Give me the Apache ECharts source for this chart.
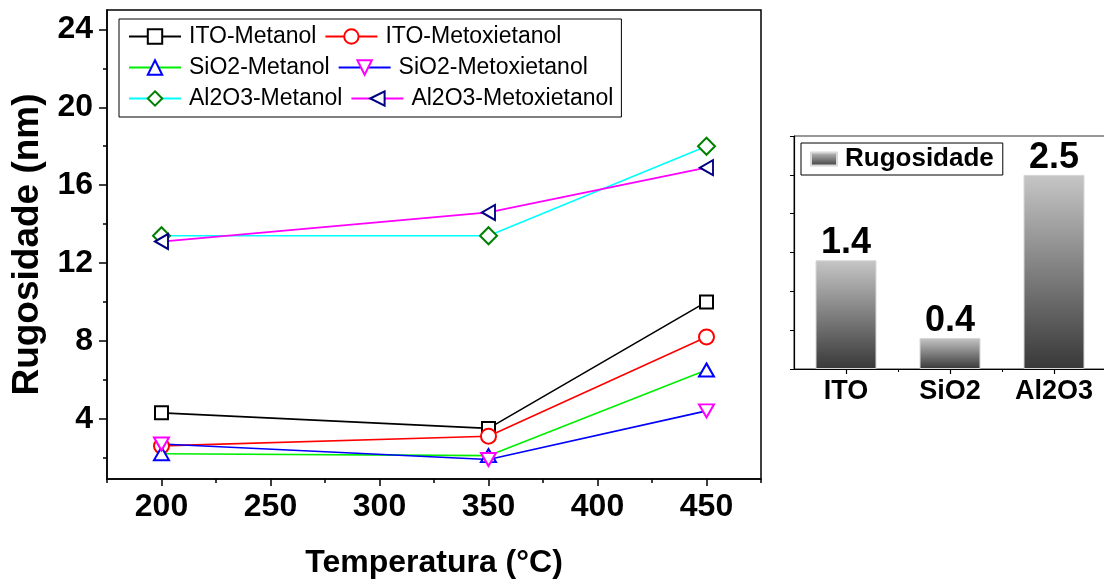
<!DOCTYPE html>
<html>
<head>
<meta charset="utf-8">
<script src="https://cdn.jsdelivr.net/npm/echarts@6/dist/echarts.min.js"></script>
<style>
  html, body { margin: 0; padding: 0; background: #fff; }
  #chart { width: 1104px; height: 580px; }
</style>
</head>
<body>
<div id="chart"></div>
<script>
// Temperatures (°C) and surface roughness (nm) per substrate / solvent
const temperaturas = [200, 350, 450];
const itoMetanol = [4.3, 3.5, 10.0];
const itoMetoxietanol = [2.6, 3.1, 8.2];
const sio2Metanol = [2.2, 2.1, 6.5];
const sio2Metoxietanol = [2.7, 1.9, 4.4];
const al2o3Metanol = [13.4, 13.4, 18.0];
const al2o3Metoxietanol = [13.1, 14.6, 16.9];

// Axis ticks
const xMajorTicks = [200, 250, 300, 350, 400, 450];
const xMinorTicks = [175, 225, 275, 325, 375, 425, 475];
const yMajorTicks = [4, 8, 12, 16, 20, 24];
const yMinorTicks = [2, 6, 10, 14, 18, 22];

// Inset: roughness per substrate
const substratos = ['ITO', 'SiO2', 'Al2O3'];
const rugosidade = [1.4, 0.4, 2.5];
const insetMinorTicks = [0.5, 1.5];

const FONT = '"Liberation Sans", Arial, sans-serif';

function pairs(values) {
  return temperaturas.map((t, i) => [t, values[i]]);
}

function lineSeries(name, values, lineColor, symbol, symbolColor, size, rotate) {
  return {
    name: name,
    type: 'line',
    xAxisIndex: 0,
    yAxisIndex: 0,
    data: pairs(values),
    symbol: symbol,
    symbolSize: size,
    symbolRotate: rotate || 0,
    showAllSymbol: true,
    lineStyle: { color: lineColor, width: 1.6 },
    itemStyle: { color: symbolColor, borderColor: symbolColor, borderWidth: 3 },
    emphasis: { disabled: true },
    animation: false
  };
}

const barGradient = new echarts.graphic.LinearGradient(0, 0, 0, 1, [
  { offset: 0, color: '#c6c6c6' },
  { offset: 1, color: '#383838' }
]);

const chart = echarts.init(document.getElementById('chart'), null, { renderer: 'canvas' });

chart.setOption({
  animation: false,
  backgroundColor: '#fff',
  textStyle: { fontFamily: FONT },
  grid: [
    { left: 107, top: 10, width: 654, height: 469, outerBoundsMode: 'none', containLabel: false, show: true, borderColor: '#000', borderWidth: 1.5, backgroundColor: 'transparent' },
    { left: 794, top: 136, width: 312, height: 233, outerBoundsMode: 'none', containLabel: false, show: true, borderColor: '#333', borderWidth: 1, backgroundColor: 'transparent' }
  ],
  legend: [
    {
      left: 119, top: 19, width: 490,
      orient: 'horizontal',
      padding: [6, 8, 7, 9],
      itemGap: 8,
      itemWidth: 52,
      itemHeight: 18,
      borderColor: '#000', borderWidth: 1,
      textStyle: { fontFamily: FONT, fontSize: 23, color: '#000', lineHeight: 20, padding: [0, 0, 0, 3] },
      data: ['ITO-Metanol', 'ITO-Metoxietanol', 'SiO2-Metanol', 'SiO2-Metoxietanol', 'Al2O3-Metanol', 'Al2O3-Metoxietanol'],
      selectedMode: false
    },
    {
      left: 801, top: 143,
      padding: [3, 9, 3, 9],
      itemWidth: 26, itemHeight: 13,
      borderColor: '#000', borderWidth: 1,
      icon: 'rect',
      textStyle: { fontFamily: FONT, fontSize: 26, fontWeight: 'bold', color: '#000', lineHeight: 26, padding: [0, 0, 0, 3] },
      data: ['Rugosidade'],
      selectedMode: false
    }
  ],
  xAxis: [
    {
      gridIndex: 0, type: 'value', min: 175, max: 475, position: 'bottom',
      name: 'Temperatura (°C)', nameLocation: 'middle', nameGap: 68,
      nameTextStyle: { fontFamily: FONT, fontSize: 32, fontWeight: 'bold', color: '#000' },
      axisLine: { show: true, onZero: false, lineStyle: { color: '#000', width: 1.5 } },
      axisTick: { show: true, customValues: xMajorTicks, length: 7, lineStyle: { color: '#000', width: 1.5 } },
      axisLabel: { show: true, customValues: xMajorTicks, margin: 12, fontFamily: FONT, fontSize: 32, fontWeight: 'bold', color: '#000' },
      splitLine: { show: false }
    },
    {
      gridIndex: 0, type: 'value', min: 175, max: 475, position: 'bottom',
      axisLine: { show: false, onZero: false },
      axisTick: { show: true, customValues: xMinorTicks, length: 4, lineStyle: { color: '#000', width: 1.5 } },
      axisLabel: { show: false },
      splitLine: { show: false }
    },
    {
      gridIndex: 1, type: 'category', data: substratos, position: 'bottom',
      axisLine: { show: true, onZero: false, lineStyle: { color: '#000', width: 1.2 } },
      axisTick: { show: true, alignWithLabel: true, length: 5, lineStyle: { color: '#000', width: 1.2 } },
      axisLabel: { show: true, margin: 9, fontFamily: FONT, fontSize: 27, fontWeight: 'bold', color: '#000' },
      splitLine: { show: false }
    },
    {
      gridIndex: 1, type: 'value', min: -0.5, max: 2.5, position: 'bottom',
      axisLine: { show: false, onZero: false },
      axisTick: { show: true, customValues: insetMinorTicks, length: 3, lineStyle: { color: '#000', width: 1 } },
      axisLabel: { show: false },
      splitLine: { show: false }
    }
  ],
  yAxis: [
    {
      gridIndex: 0, type: 'value', min: 0.9, max: 25, position: 'left',
      name: 'Rugosidade (nm)', nameLocation: 'middle', nameGap: 59, nameRotate: 90,
      nameTextStyle: { fontFamily: FONT, fontSize: 37, fontWeight: 'bold', color: '#000' },
      axisLine: { show: true, onZero: false, lineStyle: { color: '#000', width: 1.5 } },
      axisTick: { show: true, customValues: yMajorTicks, length: 8, lineStyle: { color: '#000', width: 1.5 } },
      axisLabel: { show: true, customValues: yMajorTicks, margin: 14, fontFamily: FONT, fontSize: 32, fontWeight: 'bold', color: '#000' },
      splitLine: { show: false }
    },
    {
      gridIndex: 0, type: 'value', min: 0.9, max: 25, position: 'left',
      axisLine: { show: false, onZero: false },
      axisTick: { show: true, customValues: yMinorTicks, length: 4, lineStyle: { color: '#000', width: 1.5 } },
      axisLabel: { show: false },
      splitLine: { show: false }
    },
    {
      gridIndex: 1, type: 'value', min: 0, max: 3, interval: 0.5, position: 'left',
      axisLine: { show: true, onZero: false, lineStyle: { color: '#000', width: 1.2 } },
      axisTick: { show: true, length: 4, lineStyle: { color: '#000', width: 1 } },
      axisLabel: { show: false },
      splitLine: { show: false }
    }
  ],
  series: [
    lineSeries('ITO-Metanol', itoMetanol, '#000000', 'emptyRect', '#000000', 13),
    lineSeries('ITO-Metoxietanol', itoMetoxietanol, '#ff0000', 'emptyCircle', '#ff0000', 15),
    lineSeries('SiO2-Metanol', sio2Metanol, '#00ee00', 'emptyTriangle', '#0000ff', [15, 13]),
    lineSeries('SiO2-Metoxietanol', sio2Metoxietanol, '#0000ff', 'emptyTriangle', '#ff00ff', [15, 13], 180),
    lineSeries('Al2O3-Metanol', al2o3Metanol, '#00ffff', 'emptyDiamond', '#008000', 17),
    lineSeries('Al2O3-Metoxietanol', al2o3Metoxietanol, '#ff00ff', 'emptyTriangle', '#000080', [15, 13], 90),
    {
      name: 'Rugosidade',
      type: 'bar',
      xAxisIndex: 2,
      yAxisIndex: 2,
      data: rugosidade,
      barWidth: 61,
      itemStyle: { color: barGradient, borderColor: '#d8d8d8', borderWidth: 1 },
      label: {
        show: true, position: 'top', distance: -1,
        fontFamily: FONT, fontSize: 36, fontWeight: 'bold', color: '#000',
        formatter: (p) => p.value.toFixed(1)
      },
      emphasis: { disabled: true }
    }
  ]
});
</script>
</body>
</html>
